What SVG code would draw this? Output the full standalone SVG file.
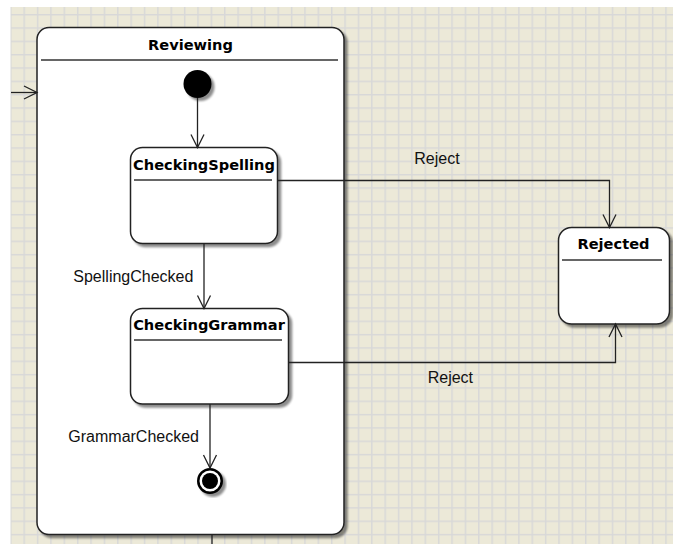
<svg xmlns="http://www.w3.org/2000/svg" width="673" height="544" viewBox="0 0 673 544">
<style>
.node{fill:#fff;stroke:#222;stroke-width:1.5}
.hdr{stroke:#333;stroke-width:1.3}
.title{font-family:"DejaVu Sans",Verdana,sans-serif;font-weight:bold;font-size:14.6px;fill:#000;text-anchor:middle}
.lbl{font-family:"Liberation Sans",Arial,sans-serif;font-size:16px;fill:#111}
.conn{fill:none;stroke:#222;stroke-width:1.3}
</style>
<defs>
<pattern id="grid" patternUnits="userSpaceOnUse" x="10.1" y="0.67" width="13.37" height="13.33">
<rect width="13.37" height="13.33" fill="#ECE9D8"/>
<path d="M0.7,0 V13.33 M0,0.7 H13.37" stroke="#D8D8D8" stroke-width="1.5"/>
</pattern>
<filter id="sh" x="-10%" y="-10%" width="130%" height="130%">
<feGaussianBlur in="SourceAlpha" stdDeviation="1.2" result="b"/>
<feOffset in="b" dx="3" dy="3" result="o"/>
<feComponentTransfer in="o" result="s"><feFuncA type="linear" slope="0.45"/></feComponentTransfer>
<feMerge><feMergeNode in="s"/><feMergeNode in="SourceGraphic"/></feMerge>
</filter>
<marker id="arr" markerUnits="userSpaceOnUse" viewBox="-15 -8 17 16" markerWidth="17" markerHeight="16" refX="0" refY="0" orient="auto">
<path d="M-13,-6.5 L0,0 L-13,6.5" fill="none" stroke="#222" stroke-width="1.3"/>
</marker>
</defs>
<rect width="673" height="544" fill="#fff"/>
<rect x="10.5" y="7" width="662.5" height="537" fill="url(#grid)"/>

<g id="Reviewing">
<rect class="node" x="37" y="27.5" width="307" height="507" rx="12" filter="url(#sh)"/>
<line class="hdr" x1="41" y1="60" x2="338" y2="60"/>
<text class="title" x="190.5" y="49.5">Reviewing</text>
</g>

<g id="Initial">
<circle cx="197.5" cy="84" r="14" fill="#000" filter="url(#sh)"/>
</g>

<g id="CheckingSpelling">
<rect class="node" x="130.5" y="147.5" width="147" height="96" rx="12" filter="url(#sh)"/>
<line class="hdr" x1="134" y1="180" x2="272" y2="180"/>
<text class="title" x="204" y="169.5">CheckingSpelling</text>
</g>

<g id="CheckingGrammar">
<rect class="node" x="130.5" y="308.5" width="158" height="95.5" rx="12" filter="url(#sh)"/>
<line class="hdr" x1="134" y1="340" x2="282" y2="340"/>
<text class="title" x="209" y="329.5">CheckingGrammar</text>
</g>

<g id="Final">
<g filter="url(#sh)">
<circle cx="210" cy="481" r="11.75" fill="#fff" stroke="#000" stroke-width="2.5"/>
<circle cx="210" cy="481" r="8" fill="#000"/>
</g>
</g>

<g id="Rejected">
<rect class="node" x="558.5" y="227.5" width="111" height="96.5" rx="13" filter="url(#sh)"/>
<line class="hdr" x1="562" y1="260" x2="662" y2="260"/>
<text class="title" x="613.5" y="248.5">Rejected</text>
</g>

<g id="connectors">
<path class="conn" d="M11,92.5 H37" marker-end="url(#arr)"/>
<path class="conn" d="M197.5,98 V147.5" marker-end="url(#arr)"/>
<path class="conn" d="M204,243.5 V308.5" marker-end="url(#arr)"/>
<path class="conn" d="M277.5,180.5 H609.5 V227.5" marker-end="url(#arr)"/>
<path class="conn" d="M288.5,362.5 H615.5 V324" marker-end="url(#arr)"/>
<path class="conn" d="M210,404 V468" marker-end="url(#arr)"/>
<path class="conn" d="M212,535 V544"/>
<text class="lbl" x="414.3" y="164.3">Reject</text>
<text class="lbl" x="427.7" y="383.3">Reject</text>
<text class="lbl" x="73.3" y="281.7">SpellingChecked</text>
<text class="lbl" x="68.3" y="442.3">GrammarChecked</text>
</g>
</svg>
